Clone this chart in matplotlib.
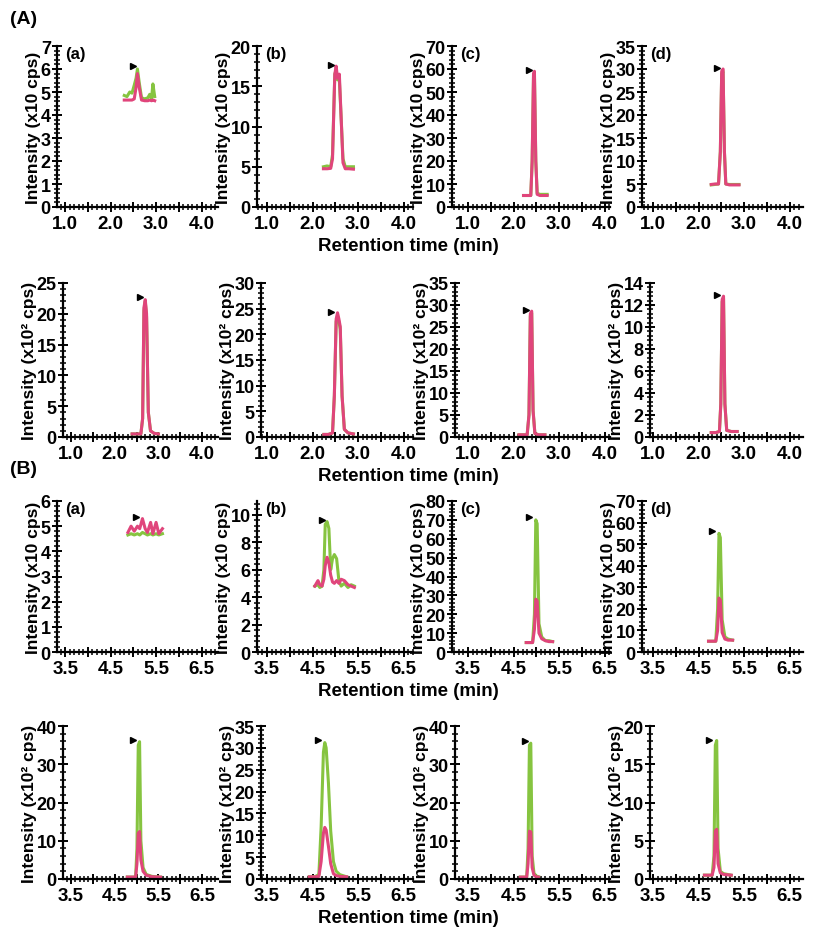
import matplotlib
matplotlib.use("Agg")
import matplotlib.pyplot as plt
from matplotlib.ticker import MultipleLocator, AutoMinorLocator, FuncFormatter

plt.rcParams['font.family'] = ['Liberation Sans', 'DejaVu Sans']
plt.rcParams['font.weight'] = 'bold'

GREEN = '#86c440'
PINK = '#e0457b'

# ---- (A) top row, intensity x10 cps ----
A1a_time = [2.30, 2.36, 2.42, 2.47, 2.52, 2.56, 2.59, 2.63, 2.68, 2.75, 2.82, 2.86, 2.90, 2.93, 2.97]
A1a_green = [4.85, 4.8, 5.0, 4.95, 5.3, 5.6, 6.0, 5.4, 4.75, 4.7, 4.75, 4.9, 4.7, 5.35, 4.8]
A1a_pink = [4.65, 4.65, 4.65, 4.65, 4.7, 5.2, 5.8, 5.2, 4.65, 4.62, 4.62, 4.65, 4.62, 4.65, 4.62]

A1b_time = [2.24, 2.32, 2.40, 2.44, 2.49, 2.52, 2.55, 2.59, 2.63, 2.67, 2.72, 2.80, 2.90]
A1b_green = [5.0, 5.1, 5.0, 6.5, 16.5, 17.0, 15.8, 15.8, 11.0, 6.0, 5.0, 5.0, 5.0]
A1b_pink = [4.75, 4.75, 4.8, 6.0, 16.5, 17.5, 16.0, 16.5, 11.0, 5.5, 4.75, 4.75, 4.7]

A1c_time = [2.22, 2.30, 2.38, 2.41, 2.44, 2.46, 2.49, 2.52, 2.58, 2.66, 2.74]
A1c_green = [5.0, 5.0, 5.0, 20, 57, 58, 20, 6.0, 5.5, 5.5, 5.5]
A1c_pink = [5.0, 5.0, 5.0, 20, 58, 59, 20, 5.5, 5.0, 5.0, 5.0]

A1d_time = [2.28, 2.36, 2.44, 2.48, 2.51, 2.54, 2.57, 2.60, 2.68, 2.78, 2.89]
A1d_green = [4.8, 4.9, 5.0, 12, 29, 29.5, 12, 5.0, 4.9, 4.9, 4.9]
A1d_pink = [4.9, 5.0, 5.0, 12, 29.5, 30, 12, 5.0, 4.8, 4.8, 4.8]

# ---- (A) bottom row, intensity x10^2 cps ----
A2a_time = [2.40, 2.50, 2.60, 2.64, 2.67, 2.70, 2.73, 2.77, 2.82, 2.90, 3.00]
A2a_green = [0.5, 0.5, 0.5, 3, 20.5, 22.0, 19.5, 4, 1.0, 0.6, 0.5]
A2a_pink = [0.5, 0.5, 0.5, 3, 21, 22.3, 20, 4, 1.0, 0.6, 0.5]

A2b_time = [2.25, 2.35, 2.44, 2.48, 2.52, 2.55, 2.58, 2.61, 2.65, 2.70, 2.78, 2.90]
A2b_green = [0.5, 0.5, 0.8, 8, 22.5, 23.5, 22.5, 21, 8, 1.5, 0.8, 0.6]
A2b_pink = [0.5, 0.5, 0.8, 8, 23, 24.2, 23, 21.5, 8, 1.5, 0.8, 0.6]

A2c_time = [2.12, 2.22, 2.30, 2.34, 2.37, 2.40, 2.43, 2.47, 2.55, 2.69]
A2c_green = [0.5, 0.5, 0.5, 5, 27.5, 28.2, 6, 0.8, 0.5, 0.5]
A2c_pink = [0.5, 0.5, 0.5, 5, 28, 28.6, 6, 0.8, 0.5, 0.5]

A2d_time = [2.28, 2.38, 2.46, 2.49, 2.52, 2.55, 2.58, 2.62, 2.72, 2.85]
A2d_green = [0.4, 0.4, 0.5, 3, 12.3, 12.6, 3, 0.6, 0.5, 0.5]
A2d_pink = [0.4, 0.4, 0.5, 3, 12.5, 12.8, 3, 0.6, 0.5, 0.5]

# ---- (B) top row, intensity x10 cps ----
B1a_time = [4.88, 4.95, 5.02, 5.09, 5.14, 5.20, 5.26, 5.31, 5.38, 5.43, 5.50, 5.56, 5.64]
B1a_green = [4.65, 4.7, 4.65, 4.7, 4.65, 4.75, 4.7, 4.65, 4.7, 4.65, 4.7, 4.65, 4.7]
B1a_pink = [4.75, 5.0, 4.8, 5.0, 4.9, 5.3, 4.9, 4.75, 5.15, 4.7, 5.15, 4.7, 4.9]

B1b_time = [4.55, 4.62, 4.66, 4.71, 4.75, 4.78, 4.82, 4.86, 4.90, 4.94, 4.98, 5.03, 5.08, 5.13, 5.20, 5.28, 5.35, 5.42]
B1b_green = [4.8, 4.9, 4.7, 4.8, 6.0, 9.3, 9.5, 9.0, 6.0, 6.8, 7.1, 6.8, 5.2, 4.8, 5.0, 4.7, 4.9, 4.8]
B1b_pink = [4.8, 5.2, 4.9, 4.8, 5.3, 6.3, 6.9, 6.5, 5.6, 5.1, 5.0, 5.2, 5.0, 5.3, 5.2, 4.9, 4.8, 4.7]

B1c_time = [4.78, 4.85, 4.92, 4.96, 4.99, 5.02, 5.06, 5.12, 5.20, 5.28, 5.36]
B1c_green = [5, 5, 5, 20, 70, 68, 15, 8, 6, 6, 5.5]
B1c_pink = [5, 5, 5, 12, 28, 27, 10, 7, 6, 5.5, 5.5]

B1d_time = [4.72, 4.80, 4.88, 4.92, 4.95, 4.98, 5.02, 5.08, 5.15, 5.25]
B1d_green = [5, 5, 5, 20, 55, 53, 15, 7, 6, 5.5]
B1d_pink = [5, 5, 5, 10, 25, 24, 9, 6, 5.5, 5.5]

# ---- (B) bottom row, intensity x10^2 cps ----
B2a_time = [4.79, 4.90, 4.98, 5.01, 5.04, 5.07, 5.10, 5.15, 5.22, 5.35, 5.55]
B2a_green = [0.5, 0.5, 0.5, 8, 35, 35.9, 10, 3, 1.2, 0.7, 0.5]
B2a_pink = [0.5, 0.5, 0.5, 4, 12, 12.4, 5, 2, 1, 0.6, 0.5]

B2b_time = [4.43, 4.55, 4.64, 4.69, 4.74, 4.77, 4.80, 4.85, 4.90, 4.96, 5.02, 5.10, 5.25]
B2b_green = [0.5, 0.5, 1.0, 12, 29, 31.2, 30, 22, 11, 4, 1.8, 1.0, 0.5]
B2b_pink = [0.5, 0.5, 0.6, 4, 10.5, 11.8, 11.2, 7.5, 3.5, 1.2, 0.8, 0.6, 0.5]

B2c_time = [4.65, 4.72, 4.79, 4.82, 4.85, 4.88, 4.91, 4.95, 5.00, 5.05]
B2c_green = [0.5, 0.5, 0.5, 8, 35, 35.5, 6, 1.5, 0.8, 0.6]
B2c_pink = [0.5, 0.5, 0.5, 4, 12.5, 12.3, 3, 1, 0.6, 0.5]

B2d_time = [4.63, 4.72, 4.80, 4.84, 4.87, 4.90, 4.93, 4.98, 5.05, 5.22]
B2d_green = [0.5, 0.5, 0.5, 3, 17.5, 18.1, 4, 1, 0.7, 0.5]
B2d_pink = [0.5, 0.5, 0.5, 1.5, 6.3, 6.5, 2, 0.8, 0.6, 0.5]

# peak markers (time, intensity) per panel, row order
marker_time = [[2.50, 2.40, 2.34, 2.40], [2.57, 2.40, 2.27, 2.41],
               [5.06, 4.70, 4.85, 4.80], [4.93, 4.63, 4.75, 4.74]]
marker_int = [[6.15, 17.6, 59.5, 30.2], [22.7, 24.3, 28.8, 12.9],
              [5.37, 9.6, 71.5, 56.0], [36.3, 31.9, 36.0, 18.2]]

# y axis limits / major step per panel
y_max = [[7, 20, 70, 35], [25, 30, 35, 14], [6, 11, 80, 70], [40, 35, 40, 20]]
y_step = [[1, 5, 10, 5], [5, 5, 5, 2], [1, 2, 10, 10], [10, 5, 10, 5]]

x_first = [1.0, 1.0, 3.5, 3.5]        # first labelled retention time per row
y_labels = ['Intensity (x10 cps)', 'Intensity (x10² cps)',
            'Intensity (x10 cps)', 'Intensity (x10² cps)']
panel_tags = ['(a)', '(b)', '(c)', '(d)']

data = [
    [(A1a_time, A1a_green, A1a_pink), (A1b_time, A1b_green, A1b_pink),
     (A1c_time, A1c_green, A1c_pink), (A1d_time, A1d_green, A1d_pink)],
    [(A2a_time, A2a_green, A2a_pink), (A2b_time, A2b_green, A2b_pink),
     (A2c_time, A2c_green, A2c_pink), (A2d_time, A2d_green, A2d_pink)],
    [(B1a_time, B1a_green, B1a_pink), (B1b_time, B1b_green, B1b_pink),
     (B1c_time, B1c_green, B1c_pink), (B1d_time, B1d_green, B1d_pink)],
    [(B2a_time, B2a_green, B2a_pink), (B2b_time, B2b_green, B2b_pink),
     (B2c_time, B2c_green, B2c_pink), (B2d_time, B2d_green, B2d_pink)],
]

# layout in pixels
W, H = 816, 929
row_top = [47, 284, 502, 727]
row_bot = [208, 438, 653, 880]
left_odd = [57, 257, 452, 642]
left_even = [63, 261, 455, 650]
col_right = [218, 413, 610, 803]
first_px = [65, 267, 468, 653]    # pixel of first labelled tick per column
px_per_min = 45.5

fig = plt.figure(figsize=(W / 100, H / 100), dpi=100)


def fmt_x(first):
    def f(v, pos):
        d = v - first
        if abs(d - round(d)) < 1e-6:
            return f'{v:.1f}'
        return ''
    return FuncFormatter(f)


for r in range(4):
    lefts = left_odd if r % 2 == 0 else left_even
    for c in range(4):
        l, rt = lefts[c], col_right[c]
        ax = fig.add_axes([l / W, 1 - row_bot[r] / H, (rt - l) / W, (row_bot[r] - row_top[r]) / H])
        t, g, p = data[r][c]
        ax.plot(t, g, color=GREEN, lw=2.2, solid_joinstyle='round')
        ax.plot(t, p, color=PINK, lw=2.2, solid_joinstyle='round')
        ax.plot(marker_time[r][c], marker_int[r][c], marker='>', color='black', ms=5, ls='none')

        x0 = x_first[r] + (l - first_px[c]) / px_per_min
        if c == 0:
            # keep the first time label clear of the "0" intensity label
            x0 = min(x0, x_first[r] - 0.18)
        x1 = x_first[r] + (rt - first_px[c]) / px_per_min
        ax.set_xlim(x0, x1)
        ax.set_ylim(0, y_max[r][c])

        ax.xaxis.set_major_locator(MultipleLocator(0.5))
        ax.xaxis.set_minor_locator(MultipleLocator(0.1))
        ax.xaxis.set_major_formatter(fmt_x(x_first[r]))
        ax.yaxis.set_major_locator(MultipleLocator(y_step[r][c]))
        ax.yaxis.set_minor_locator(AutoMinorLocator(5))

        for s in ['top', 'right']:
            ax.spines[s].set_visible(False)
        for s in ['left', 'bottom']:
            ax.spines[s].set_linewidth(1.6)
        ax.tick_params(which='major', direction='inout', length=7, width=1.4, pad=3)
        ax.tick_params(which='minor', direction='inout', length=4, width=1.1)
        ax.tick_params(axis='x', labelsize=13.5, pad=2.5)
        ax.tick_params(axis='y', labelsize=13, pad=1)
        for lab in ax.get_xticklabels() + ax.get_yticklabels():
            lab.set_fontweight('bold')

        ax.set_ylabel(y_labels[r], fontsize=12.5, fontweight='bold', labelpad=0)

        if r % 2 == 0:
            ax.text(0.05, 1.0, panel_tags[c], transform=ax.transAxes, fontsize=12,
                    fontweight='bold', va='top', ha='left')

    fig.text(0.5, 1 - (row_bot[r] + 39) / H, 'Retention time (min)', ha='center',
             va='center', fontsize=13.5, fontweight='bold')

fig.text(10 / W, 1 - 20 / H, '(A)', fontsize=14, fontweight='bold', va='center')
fig.text(10 / W, 1 - 470 / H, '(B)', fontsize=14, fontweight='bold', va='center')

fig.savefig('out.png', dpi=100)
